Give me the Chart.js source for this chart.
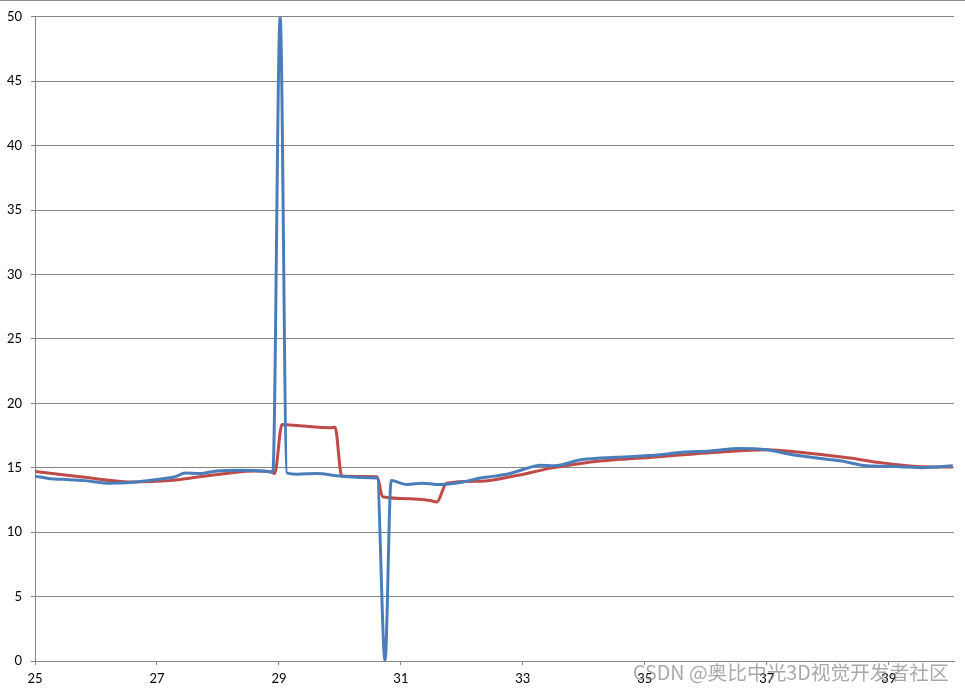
<!DOCTYPE html>
<html>
<head>
<meta charset="utf-8">
<script src="https://cdn.jsdelivr.net/npm/chart.js@4/dist/chart.umd.min.js"></script>
<style>
  body { margin: 0; background: #fff; }
  #wrap { position: relative; width: 965px; height: 690px; }
  #topline { position: absolute; left: 0; top: 0; width: 965px; height: 1px; background: #8c8c8c; }
  #mark { position: absolute; left: 633px; top: 657px; font-family: "Noto Sans CJK SC", sans-serif;
          font-size: 19.7px; color: rgba(140,140,140,0.75); white-space: nowrap; }
</style>
</head>
<body>
<div id="wrap">
  <canvas id="chart" width="965" height="690"></canvas>
  <div id="topline"></div>
  <div id="mark">CSDN @奥比中光3D视觉开发者社区</div>
</div>
<script>
const ctx = document.getElementById("chart");

// x ticks shown on the axis
let xTicks = [25, 27, 29, 31, 33, 35, 37, 39];

// blue series
let blueX = [25.00, 25.25, 25.46, 25.82, 26.18, 26.56, 26.84, 27.10, 27.30, 27.46, 27.70, 27.98,
             28.36, 28.74, 28.90, 29.02, 29.13, 29.30, 29.62, 30.00, 30.33, 30.61, 30.74, 30.84,
             31.10, 31.36, 31.59, 32.02, 32.30, 32.54, 32.79, 33.03, 33.28, 33.52, 33.93, 34.26,
             34.75, 35.25, 35.62, 36.07, 36.56, 37.00, 37.38, 37.82, 38.20, 38.64, 39.10, 39.56, 40.05];
let blueY = [14.35, 14.15, 14.1, 14.0, 13.8, 13.85, 14.0, 14.15, 14.3, 14.6, 14.55, 14.75,
             14.8, 14.75, 14.65, 50, 14.6, 14.5, 14.55, 14.35, 14.25, 14.2, 0, 14.0,
             13.7, 13.8, 13.7, 13.9, 14.2, 14.35, 14.55, 14.9, 15.2, 15.15, 15.6, 15.75,
             15.85, 16.0, 16.2, 16.3, 16.5, 16.4, 16.05, 15.75, 15.55, 15.15, 15.1, 15.0, 15.15];

// red series
let redX = [25.00, 25.74, 26.56, 27.21, 27.70, 28.20, 28.61, 28.85, 28.93, 29.05, 29.34, 29.84,
            29.92, 30.03, 30.61, 30.70, 31.15, 31.48, 31.59, 31.75, 32.30, 32.90, 33.44, 33.98,
            34.59, 35.08, 36.18, 37.00, 37.54, 38.36, 38.85, 39.46, 40.05];
let redY = [14.7, 14.3, 13.9, 14.0, 14.3, 14.6, 14.75, 14.7, 14.55, 18.35, 18.25, 18.1,
            18.15, 14.35, 14.3, 12.75, 12.6, 12.45, 12.35, 13.8, 13.95, 14.4, 14.95, 15.35,
            15.65, 15.8, 16.2, 16.4, 16.2, 15.75, 15.4, 15.1, 15.05];

const gridColor = '#868686';
Chart.defaults.font.family = 'Lato, "Open Sans", sans-serif';
Chart.defaults.font.size = 13;
Chart.defaults.color = '#000';

function toPoints(xs, ys) {
    let pts = [];
    for (let i = 0; i < xs.length; i++) {
        pts.push({x: xs[i], y: ys[i]});
    }
    return pts;
}

let mainChart = new Chart(ctx, {
    type: 'line',
    data: {
        datasets: [
            {
                label: 'blue',
                data: toPoints(blueX, blueY),
                borderColor: '#4a7ebb',
                backgroundColor: 'transparent',
                borderWidth: 3,
                pointRadius: 0,
                cubicInterpolationMode: 'monotone',
            },
            {
                label: 'red',
                data: toPoints(redX, redY),
                borderColor: '#be4b48',
                backgroundColor: 'transparent',
                borderWidth: 3,
                pointRadius: 0,
                cubicInterpolationMode: 'monotone',
            },
        ],
    },
    options: {
        responsive: false,
        animation: false,
        layout: {padding: {top: 16, right: 11, left: 0, bottom: 0}},
        plugins: {
            legend: {display: false},
            tooltip: {enabled: false},
        },
        scales: {
            x: {
                type: 'linear',
                min: 25,
                max: 40.07,
                afterBuildTicks: function (scale) {
                    scale.ticks = xTicks.map(v => ({value: v}));
                },
                afterFit: function (scale) { scale.height = 29; },
                grid: {drawOnChartArea: false, drawTicks: true, tickLength: 4, color: gridColor},
                border: {color: gridColor},
                ticks: {padding: 6, maxRotation: 0, autoSkip: false},
            },
            y: {
                min: 0,
                max: 50,
                afterFit: function (scale) { scale.width = 35; },
                grid: {color: gridColor, tickLength: 4},
                border: {color: gridColor},
                ticks: {stepSize: 5, padding: 9},
            },
        },
    },
});
</script>
</body>
</html>
